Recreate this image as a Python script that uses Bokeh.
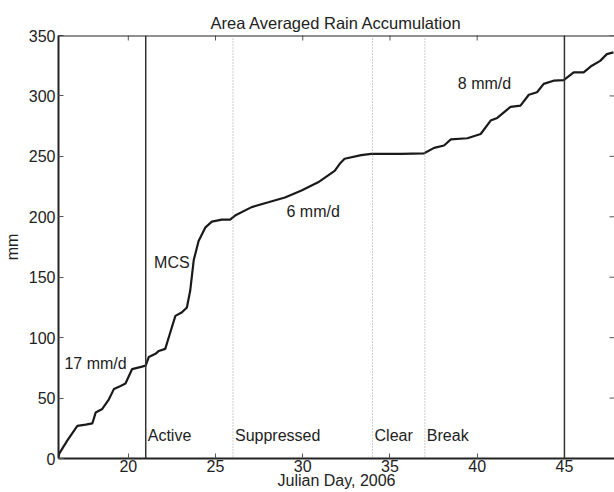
import math
from bokeh.plotting import figure
from bokeh.models import Range1d, Span, FixedTicker, Label
from bokeh.embed import file_html
from bokeh.resources import INLINE

# ---- data ----
days = [16.0, 16.04, 16.51, 17.08, 17.56, 17.94, 18.13, 18.51, 18.89, 19.18, 19.56,
        19.84, 20.22, 20.79, 21.0, 21.18, 21.56, 21.75, 22.12, 22.41, 22.70, 23.08,
        23.36, 23.55, 23.75, 24.03, 24.41, 24.79, 25.36, 25.84, 26.12, 27.07, 28.03,
        28.98, 29.93, 30.88, 31.83, 32.12, 32.40, 33.35, 33.92, 35.63, 36.96, 37.53,
        38.10, 38.49, 39.44, 40.20, 40.77, 41.15, 41.53, 41.91, 42.48, 42.96, 43.43,
        43.81, 44.38, 44.96, 45.53, 46.10, 46.57, 47.05, 47.43, 47.81]
rain_mm = [1, 4, 15, 27, 28, 29, 38, 41, 49, 57.6, 60,
           62, 74, 76, 77, 84, 86.6, 89, 90.7, 104.5, 118, 121,
           125, 139, 164, 180, 191, 196, 197.7, 197.7, 201, 208, 212,
           216, 221.7, 228.5, 238, 243.8, 248, 251, 252, 252, 252.5, 257,
           259, 264, 265, 268.5, 279.6, 281.8, 286.4, 291, 292, 301, 303,
           310, 312.6, 313, 319.5, 319.5, 325, 329, 334.6, 336]

solid_days = [21, 45]
dotted_days = [26, 34, 37]

phase_names = ["Active", "Suppressed", "Clear", "Break"]
phase_days = [21, 26, 34, 37]
phase_y = 19

note_texts = ["17 mm/d", "MCS", "6 mm/d", "8 mm/d"]
note_x = [16.34, 21.48, 29.07, 38.89]
note_y = [79, 162, 204, 310]

x_ticks = [20, 25, 30, 35, 40, 45]
y_ticks = [0, 50, 100, 150, 200, 250, 300, 350]

FONT = "Liberation Sans"
INK = "#222222"

xr = Range1d(16, 47.87)
yr = Range1d(0, 350)
p = figure(width=614, height=492, output_backend="svg", toolbar_location=None,
           x_range=xr, y_range=yr,
           min_border_left=56, min_border_right=0, min_border_top=35,
           min_border_bottom=34, background_fill_color="white",
           border_fill_color="white")
p.outline_line_color = None
p.grid.visible = False

p.title.text = "Area Averaged Rain Accumulation"
p.title.align = "center"
p.title.text_font = FONT
p.title.text_font_size = "16.5px"
p.title.text_font_style = "normal"
p.title.text_color = INK
p.title.standoff = 8

xa = p.below[0]
ya = p.left[0]
xa.ticker = FixedTicker(ticks=x_ticks)
ya.ticker = FixedTicker(ticks=y_ticks)
for ax in (xa, ya):
    ax.major_tick_in = 5
    ax.major_tick_out = 0
    ax.minor_tick_line_color = None
    ax.major_tick_line_color = "#555555"
    ax.axis_line_color = INK
    ax.axis_line_width = 2
    ax.major_label_text_font = FONT
    ax.major_label_text_font_size = "16px"
    ax.major_label_text_color = INK
    ax.axis_label_text_font = FONT
    ax.axis_label_text_font_size = "16px"
    ax.axis_label_text_font_style = "normal"
    ax.axis_label_text_color = INK
xa.axis_label = "Julian Day, 2006"
xa.major_label_standoff = 1
xa.axis_label_standoff = -3
ya.axis_label = "mm"
ya.major_label_standoff = 3
ya.axis_label_standoff = 5

# top frame line and inward ticks on top and right edges
p.add_layout(Span(location=yr.end, dimension="width", line_color=INK, line_width=2))
p.ray(x=x_ticks, y=[yr.end] * len(x_ticks), length=5, length_units="screen",
      angle=-math.pi / 2, line_color="#555555", line_width=1)
p.ray(x=[xr.end] * len(y_ticks), y=y_ticks, length=5, length_units="screen",
      angle=math.pi, line_color="#555555", line_width=1)

for d in solid_days:
    p.add_layout(Span(location=d, dimension="height", line_color="#333333", line_width=1.5))
for d in dotted_days:
    p.add_layout(Span(location=d, dimension="height", line_color="#9a9a9a",
                      line_width=1, line_dash="1 2"))

p.line(days, rain_mm, line_color="#1a1a1a", line_width=2.2)

for name, d in zip(phase_names, phase_days):
    p.add_layout(Label(x=d, y=phase_y, text=name, x_offset=2, text_baseline="middle",
                       text_font=FONT, text_font_size="16px", text_color=INK))
for t, x, y in zip(note_texts, note_x, note_y):
    p.add_layout(Label(x=x, y=y, text=t, text_baseline="middle",
                       text_font=FONT, text_font_size="16px", text_color=INK))

open("out.html", "w").write(file_html(p, INLINE))
